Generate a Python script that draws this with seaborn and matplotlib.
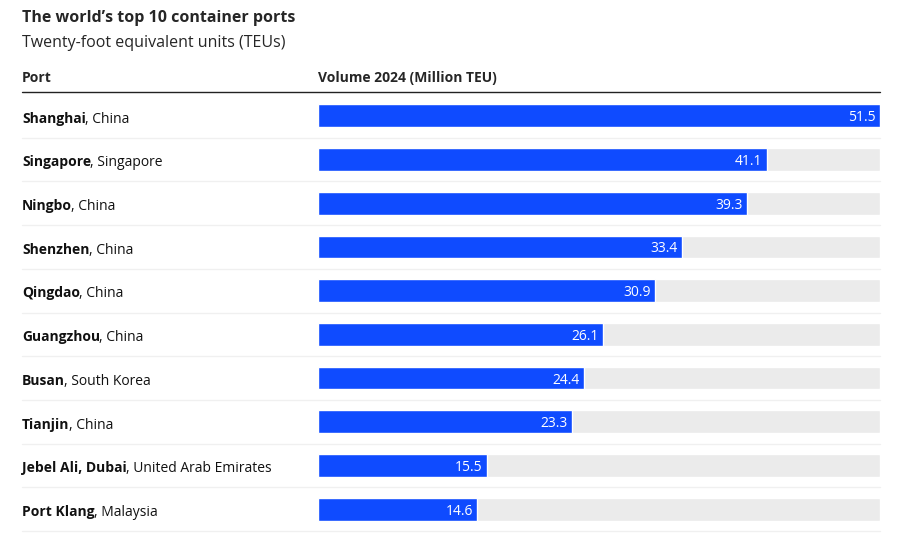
import matplotlib
matplotlib.use("Agg")
import matplotlib.pyplot as plt
import seaborn as sns
import pandas as pd
from matplotlib.transforms import blended_transform_factory

ports = ["Shanghai", "Singapore", "Ningbo", "Shenzhen", "Qingdao", "Guangzhou",
         "Busan", "Tianjin", "Jebel Ali, Dubai", "Port Klang"]
countries = ["China", "Singapore", "China", "China", "China", "China",
             "South Korea", "China", "United Arab Emirates", "Malaysia"]
volumes = [51.5, 41.1, 39.3, 33.4, 30.9, 26.1, 24.4, 23.3, 15.5, 14.6]

df = pd.DataFrame({"port": ports, "volume": volumes})
maxv = 51.5

sns.set_theme(style="white")
plt.rcParams["font.family"] = ["Open Sans", "DejaVu Sans"]

W, H = 900, 547
fig = plt.figure(figsize=(9, 5.47), dpi=100)
ax = fig.add_axes([318 / W, 1 - 531 / H, (880 - 318) / W, (531 - 94) / H])

sns.barplot(data=df, y="port", x=[maxv] * len(df), color="#ebebeb", width=0.52,
            ax=ax, orient="h", saturation=1, errorbar=None)
sns.barplot(data=df, y="port", x="volume", color="#0f4bff", width=0.52,
            ax=ax, orient="h", saturation=1, errorbar=None)
ax.set_xlim(0, maxv)
ax.set_ylim(len(df) - 0.5, -0.5)
ax.axis("off")

for i, v in enumerate(volumes):
    ax.text(v - 0.4, i, f"{v}", ha="right", va="center_baseline", color="white", fontsize=10)

tr = blended_transform_factory(fig.transFigure, ax.transData)
names = []
for i, p in enumerate(ports):
    t = ax.text(22 / W, i + 0.03, p, transform=tr, ha="left", va="center_baseline",
                fontsize=10, fontweight="bold", color="#111111")
    names.append(t)
    ax.plot([22 / W, 880 / W], [i + 0.5, i + 0.5], transform=tr,
            color="#f0f0f0", lw=1, clip_on=False)

fig.canvas.draw()
r = fig.canvas.get_renderer()
for i, (t, c) in enumerate(zip(names, countries)):
    x1 = (t.get_window_extent(r).x1 - 0.8) / fig.bbox.width
    ax.text(x1, i + 0.03, f", {c}", transform=tr, ha="left", va="center_baseline",
            fontsize=10, color="#111111")

fig.lines.append(plt.Line2D([22 / W, 880 / W], [1 - 92 / H] * 2,
                            transform=fig.transFigure, color="#222222", lw=1))
fig.text(22 / W, 1 - 78 / H, "Port", fontsize=10, fontweight="bold", va="center")
fig.text(318 / W, 1 - 78 / H, "Volume 2024 (Million TEU)", fontsize=10,
         fontweight="bold", va="center")
fig.text(22 / W, 1 - 18 / H, "The world’s top 10 container ports", fontsize=11.5,
         fontweight="bold", va="center")
fig.text(22 / W, 1 - 43 / H, "Twenty-foot equivalent units (TEUs)", fontsize=11.5,
         va="center")

fig.savefig("out.png", dpi=100, facecolor="white")
